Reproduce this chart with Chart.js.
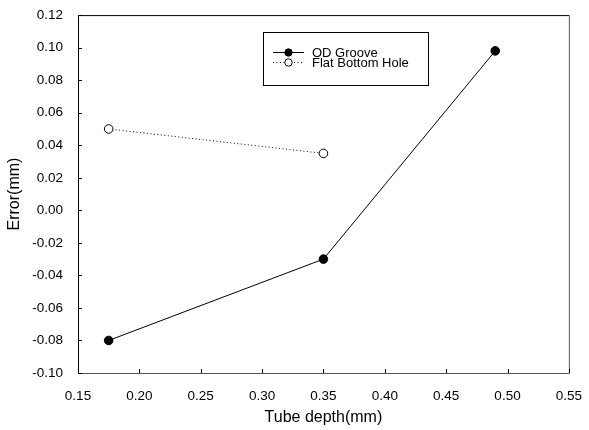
<!DOCTYPE html>
<html><head><meta charset="utf-8">
<script src="https://cdn.jsdelivr.net/npm/chart.js@4"></script>
<style>html,body{margin:0;padding:0;background:#fff}#wrap{width:589px;height:430px}</style>
</head><body><div id="wrap"><canvas id="c" width="589" height="430"></canvas></div>
<script>
const odX = [0.175, 0.35, 0.49];
const odY = [-0.08, -0.03, 0.098];
const fbX = [0.175, 0.35];
const fbY = [0.05, 0.035];
const xTicks = [0.15,0.20,0.25,0.30,0.35,0.40,0.45,0.50,0.55];
const yTicks = [-0.10,-0.08,-0.06,-0.04,-0.02,0.00,0.02,0.04,0.06,0.08,0.10,0.12];
const seriesNames = ['OD Groove','Flat Bottom Hole'];
const FONT = "'Liberation Sans', Arial, sans-serif";

const frame = {
  id:'frame',
  afterDatasetsDraw(chart){
    const {ctx, chartArea:a, scales:{x,y}} = chart;
    ctx.save();
    ctx.lineWidth = 1;
    ctx.strokeStyle = '#000';
    ctx.beginPath();
    ctx.moveTo(a.left+0.5, a.bottom+0.5); ctx.lineTo(a.left+0.5, a.top+0.5);
    ctx.lineTo(a.right+0.5, a.top+0.5); ctx.stroke();
    ctx.strokeStyle = '#555';
    ctx.beginPath();
    ctx.moveTo(a.right+0.5, a.top+0.5); ctx.lineTo(a.right+0.5, a.bottom+0.5);
    ctx.lineTo(a.left+0.5, a.bottom+0.5); ctx.stroke();
    ctx.strokeStyle = '#000';
    ctx.beginPath();
    xTicks.forEach(v=>{const px=Math.round(x.getPixelForValue(v))+0.5; ctx.moveTo(px,a.bottom); ctx.lineTo(px,a.bottom-4);});
    yTicks.forEach(v=>{const py=Math.round(y.getPixelForValue(v))+0.5; ctx.moveTo(a.left,py); ctx.lineTo(a.left+4,py);});
    ctx.stroke();
    // legend
    const bx=263.5, by=32.5, bw=165, bh=53;
    ctx.strokeStyle='#000';
    ctx.strokeRect(bx,by,bw,bh);
    ctx.font = "13px "+FONT;
    ctx.fillStyle='#000';
    ctx.textBaseline='middle';
    const rows=[52,62];
    chart.data.datasets.forEach((ds,i)=>{
      const yy=rows[i]+0.5;
      ctx.beginPath();
      ctx.setLineDash(ds.borderDash||[]);
      ctx.lineWidth=1;
      ctx.moveTo(273,yy); ctx.lineTo(304,yy); ctx.stroke();
      ctx.setLineDash([]);
      ctx.beginPath();
      ctx.arc(288.5,yy,3.7,0,Math.PI*2);
      ctx.fillStyle=ds.pointBackgroundColor; ctx.fill();
      ctx.strokeStyle='#000'; ctx.stroke();
      ctx.fillStyle='#000';
      ctx.fillText(ds.label,312,yy+1);
    });
    ctx.restore();
  }
};

new Chart(document.getElementById('c'),{
  type:'scatter',
  data:{datasets:[
    {label:seriesNames[0], data:odX.map((v,i)=>({x:v,y:odY[i]})), showLine:true,
     borderColor:'#000', borderWidth:1, pointRadius:4.3, pointBackgroundColor:'#000', pointBorderColor:'#000', pointBorderWidth:1},
    {label:seriesNames[1], data:fbX.map((v,i)=>({x:v,y:fbY[i]})), showLine:true,
     borderColor:'#000', borderWidth:1, borderDash:[1,2.5], pointRadius:4.3, pointBackgroundColor:'#fff', pointBorderColor:'#000', pointBorderWidth:1}
  ]},
  options:{
    responsive:false, animation:false,
    layout:{padding:{left:0,right:13,top:15,bottom:0}},
    plugins:{legend:{display:false}, tooltip:{enabled:false}},
    scales:{
      x:{type:'linear', min:0.15, max:0.55,
         afterBuildTicks(s){s.ticks=xTicks.map(v=>({value:v}));},
         afterFit(s){s.height=57;},
         grid:{display:false}, border:{display:false},
         ticks:{color:'#000', font:{family:FONT,size:13.5}, padding:7, maxRotation:0, callback:v=>v.toFixed(2)},
         title:{display:true, text:'Tube depth(mm)', color:'#000', font:{family:FONT,size:16}, padding:{top:0,bottom:3}}},
      y:{type:'linear', min:-0.10, max:0.12,
         afterBuildTicks(s){s.ticks=yTicks.map(v=>({value:v}));},
         afterFit(s){s.width=78;},
         grid:{display:false}, border:{display:false},
         ticks:{color:'#000', font:{family:FONT,size:13.5}, padding:7, callback:v=>v.toFixed(2)},
         title:{display:true, text:'Error(mm)', color:'#000', font:{family:FONT,size:16}, padding:{top:5,bottom:0}}}
    }
  },
  plugins:[frame]
});
</script></body></html>
